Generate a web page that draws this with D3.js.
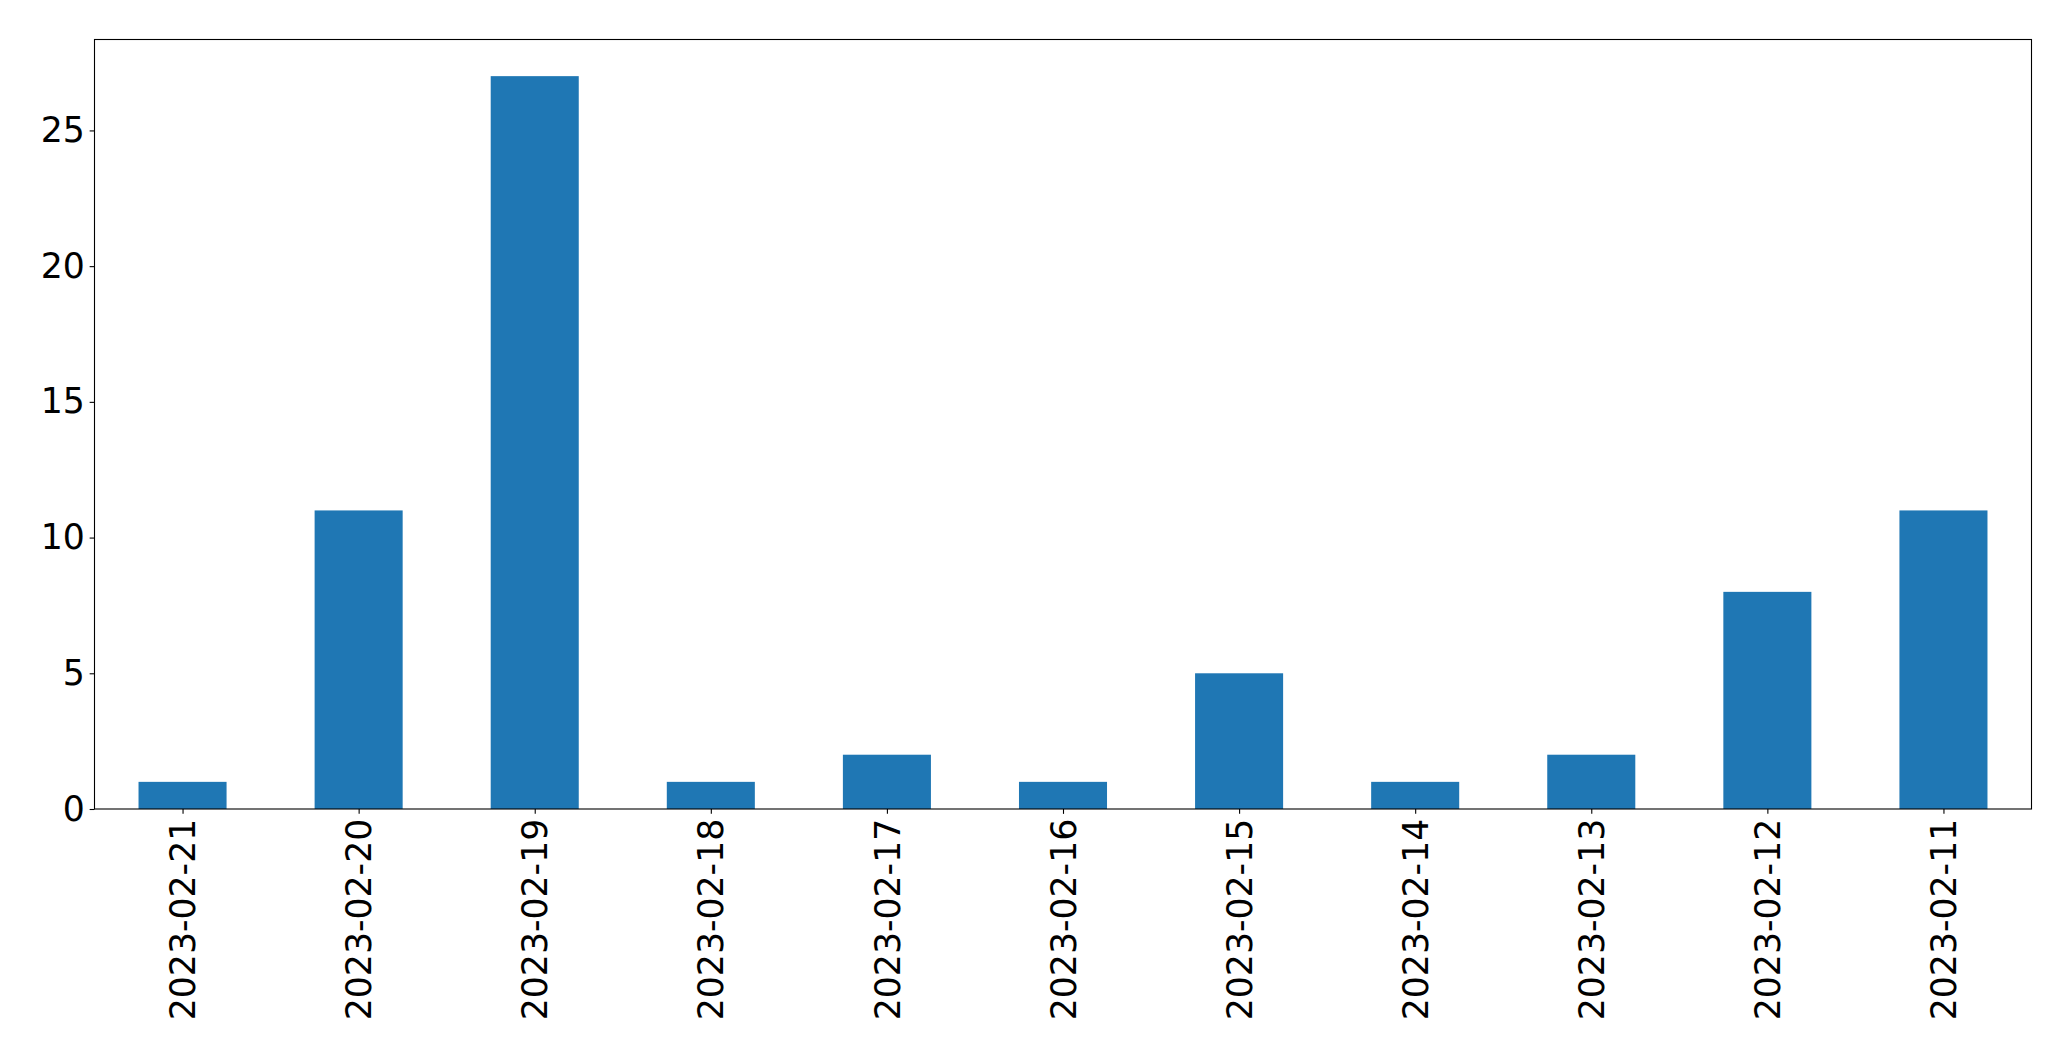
<!DOCTYPE html>
<html>
<head>
<meta charset="utf-8">
<script src="https://cdn.jsdelivr.net/npm/d3@7"></script>
<style>
  body { margin: 0; background: #fff; }
  svg text { font-family: "DejaVu Sans", sans-serif; }
</style>
</head>
<body>
<div id="chart"></div>
<script>
var dates = ["2023-02-21", "2023-02-20", "2023-02-19", "2023-02-18", "2023-02-17", "2023-02-16",
             "2023-02-15", "2023-02-14", "2023-02-13", "2023-02-12", "2023-02-11"];
var counts = [1, 11, 27, 1, 2, 1, 5, 1, 2, 8, 11];
var yTicks = [0, 5, 10, 15, 20, 25];

var width = 2071, height = 1061;
var margin = {top: 39.5, right: 39.5, bottom: 252, left: 94.5};
var fontPx = 34.7, tickLen = 4.86, tickPad = 4.86;

var svg = d3.select("#chart").append("svg")
    .attr("width", width)
    .attr("height", height);

var x = d3.scaleLinear()
    .domain([-0.5, dates.length - 0.5])
    .range([margin.left, width - margin.right]);

var y = d3.scaleLinear()
    .domain([0, d3.max(counts) * 1.05])
    .range([height - margin.bottom, margin.top]);

// bars
svg.selectAll("rect.bar")
    .data(counts)
    .enter().append("rect")
    .attr("class", "bar")
    .attr("x", function(d, i) { return x(i - 0.25); })
    .attr("width", function(d, i) { return x(i + 0.25) - x(i - 0.25); })
    .attr("y", function(d) { return y(d); })
    .attr("height", function(d) { return y(0) - y(d); })
    .style("fill", "#1f77b4");

// y axis
var yAxis = svg.append("g")
    .attr("transform", `translate(${margin.left},0)`)
    .call(d3.axisLeft(y).tickValues(yTicks).tickSize(tickLen).tickPadding(tickPad));

// x axis
var xAxis = svg.append("g")
    .attr("transform", `translate(0,${y(0)})`)
    .call(d3.axisBottom(x).tickValues(d3.range(dates.length))
        .tickFormat(function(i) { return dates[i]; })
        .tickSize(tickLen).tickPadding(0));

xAxis.selectAll("text")
    .attr("transform", "rotate(-90)")
    .attr("x", -(tickLen + tickPad))
    .attr("y", 0)
    .attr("dy", "0.35em")
    .style("text-anchor", "end");

[xAxis, yAxis].forEach(function(g) {
  g.select(".domain").remove();
  g.selectAll("line").style("stroke", "#000").style("stroke-width", 1.1);
  g.selectAll("text").style("font-size", fontPx + "px").style("fill", "#000")
    .style("font-family", "'DejaVu Sans', sans-serif");
});

// frame
svg.append("rect")
    .attr("x", margin.left)
    .attr("y", margin.top)
    .attr("width", width - margin.right - margin.left)
    .attr("height", y(0) - margin.top)
    .style("fill", "none")
    .style("stroke", "#000")
    .style("stroke-width", 1.1);
</script>
</body>
</html>
